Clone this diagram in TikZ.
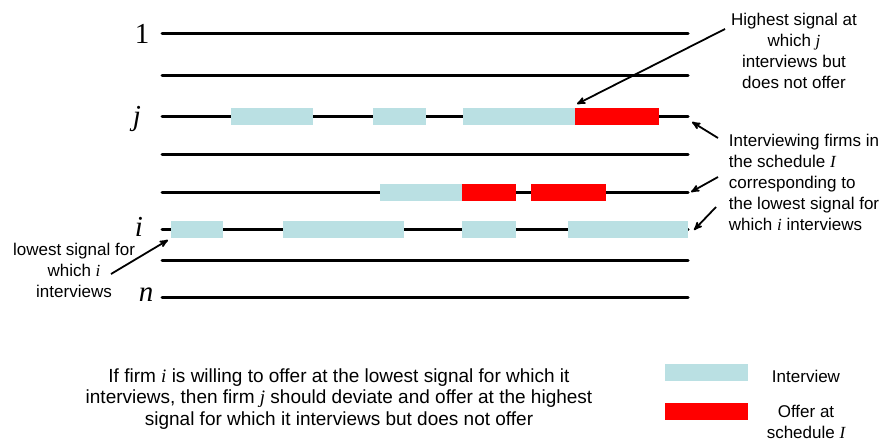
\documentclass[tikz,border=0pt]{standalone}
\usepackage{fontspec}
\setmainfont{Liberation Sans}
\newfontfamily\tms{Liberation Serif}
\usetikzlibrary{arrows,positioning}

\definecolor{intvblue}{HTML}{BAE0E3}
\newcommand{\mi}[1]{{\tms\itshape #1}}
% one bar on a row: y, from x, to x, style
\newcommand{\seg}[4]{\fill[#4] (#2,#1-8.5) rectangle (#3,#1+8.5);}

\begin{document}
\begin{tikzpicture}[x=1pt,y=-1pt,->,>=stealth',line width=1.8pt]
  \tikzstyle{row}=[-,line width=3pt,line cap=round]
  \tikzstyle{intv}=[fill=intvblue]
  \tikzstyle{offr}=[fill=red]
  \tikzstyle{note}=[font=\fontsize{17}{21}\selectfont,align=center,inner sep=0pt]
  \tikzstyle{firm}=[font=\fontsize{29}{29}\tms,inner sep=0pt]

  \useasboundingbox (0,0) rectangle (883,441);

  % the firms
  \foreach \y/\name in {34/r1,76/r2,117/rj,154/r4,192/r5,229/ri,260/r7,297/rn}{
    \coordinate (\name-w) at (162,\y);
    \coordinate (\name-e) at (688,\y);
    \draw[row] (\name-w) -- (\name-e);
  }
  \node[firm] (l1) at (142,34)  {1};
  \node[firm] (lj) at (137,119) {\itshape j};
  \node[firm] (li) at (139,227) {\itshape i};
  \node[firm] (ln) at (146,295) {\itshape n};

  % interviews and offers
  \seg{117}{231}{313}{intv}
  \seg{117}{373}{426}{intv}
  \seg{117}{463}{575}{intv}
  \seg{117}{575}{659}{offr}
  \seg{192}{380}{462}{intv}
  \seg{192}{462}{516}{offr}
  \seg{192}{531}{606}{offr}
  \seg{229}{171}{223}{intv}
  \seg{229}{283}{404}{intv}
  \seg{229}{462}{516}{intv}
  \seg{229}{568}{688}{intv}

  % notes
  \node[note] (high) at (794,51)
    {Highest signal at\\which \mi{j}\\interviews but\\does not offer};
  \node[note,align=left,anchor=west] (sched) at (728,182)
    {Interviewing firms in\\the schedule \mi{I}\\corresponding to\\the lowest signal for\\which \mi{i} interviews};
  \node[note] (low) at (74,270) {lowest signal for\\which \mi{i}\\interviews};
  \node[note,font=\fontsize{19}{21.5}\selectfont] (claim) at (339,399)
    {If firm \mi{i} is willing to offer at the lowest signal for which it\\
     interviews, then firm \mi{j} should deviate and offer at the highest\\
     signal for which it interviews but does not offer};

  \coordinate (highfrom) at (725,29);  \coordinate (highto) at (577,104);
  \coordinate (s1from) at (718,138);   \coordinate (s1to) at (692,122);
  \coordinate (s2from) at (718,177);   \coordinate (s2to) at (691,192);
  \coordinate (s3from) at (716,207);   \coordinate (s3to) at (694,230);
  \coordinate (lowfrom) at (111,274);  \coordinate (lowto) at (168,240);
  \draw (highfrom) -- (highto);
  \draw (s1from) -- (s1to);
  \draw (s2from) -- (s2to);
  \draw (s3from) -- (s3to);
  \draw (lowfrom) -- (lowto);

  % legend
  \node[intv,minimum width=83,minimum height=17,inner sep=0pt] (kint) at (706.5,372.5) {};
  \node[offr,minimum width=83,minimum height=17,inner sep=0pt] (koff) at (706.5,411) {};
  \node[note] (kintlab) at (806,376) {Interview};
  \node[note] (kofflab) at (806,422) {Offer at\\schedule \mi{I}};
\end{tikzpicture}
\end{document}
